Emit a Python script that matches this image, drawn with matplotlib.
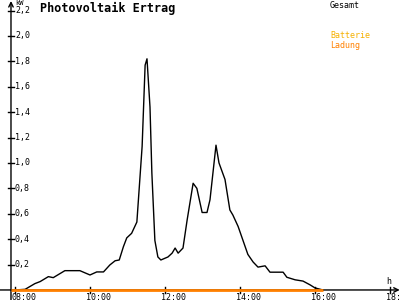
import matplotlib
matplotlib.use('Agg')
import matplotlib.pyplot as plt

# Gesamt (kW) over time of day (decimal hours)
hours = [8.0, 8.27, 8.53, 8.67, 8.89, 9.02, 9.33, 9.73, 10.0, 10.18, 10.36,
         10.53, 10.67, 10.78, 10.89, 10.98, 11.11, 11.25, 11.39, 11.47, 11.52,
         11.60, 11.65, 11.73, 11.81, 11.89, 12.08, 12.19, 12.27, 12.35, 12.48,
         12.59, 12.75, 12.85, 12.99, 13.12, 13.20, 13.36, 13.44, 13.60, 13.73,
         13.81, 13.95, 14.08, 14.21, 14.35, 14.48, 14.67, 14.80, 15.15, 15.25,
         15.47, 15.68, 15.87, 16.0, 16.21]
gesamt = [0.0, 0.005, 0.05, 0.066, 0.105, 0.097, 0.152, 0.152, 0.118, 0.142, 0.142,
          0.197, 0.23, 0.236, 0.34, 0.41, 0.446, 0.535, 1.13, 1.77, 1.82,
          1.44, 0.92, 0.39, 0.26, 0.236, 0.26, 0.29, 0.33, 0.29, 0.33,
          0.55, 0.84, 0.80, 0.61, 0.61, 0.71, 1.14, 1.00, 0.87, 0.63,
          0.59, 0.50, 0.39, 0.28, 0.22, 0.18, 0.19, 0.14, 0.14, 0.10,
          0.08, 0.07, 0.04, 0.016, 0.0]

# Batterie Ladung
batt_hours = [7.9, 16.21]
batt_kw = [0.0, 0.0]

xticks = [8, 10, 12, 14, 16, 18]
xlabels = ['08:00', '10:00', '12:00', '14:00', '16:00', '18:00']
yticks = [0.2, 0.4, 0.6, 0.8, 1.0, 1.2, 1.4, 1.6, 1.8, 2.0, 2.2]
ylabels = ['0,2', '0,4', '0,6', '0,8', '1,0', '1,2', '1,4', '1,6', '1,8', '2,0', '2,2']

mono = 'DejaVu Sans Mono'
orange = '#ff8000'

fig = plt.figure(figsize=(4, 3), dpi=100)
ax = fig.add_axes([0, 0, 1, 1])
ax.set_xlim(7.6, 18.267)
ax.set_ylim(-0.079, 2.283)
ax.axis('off')

yx = 7.893  # position of the vertical axis
# axes with arrows
ax.annotate('', xy=(18.26, 0), xytext=(7.6, 0),
            arrowprops=dict(arrowstyle='->', lw=1, color='black', shrinkA=0, shrinkB=0,
                            mutation_scale=8))
ax.annotate('', xy=(yx, 2.275), xytext=(yx, -0.079),
            arrowprops=dict(arrowstyle='->', lw=1, color='black', shrinkA=0, shrinkB=0,
                            mutation_scale=8))

# ticks
for v, lab in zip(yticks, ylabels):
    ax.plot([yx - 0.08, yx + 0.08], [v, v], color='black', lw=1)
    ax.text(8.0, v, lab, fontsize=6, family=mono, va='center', ha='left')
for t, lab in zip(xticks, xlabels):
    ax.plot([t, t], [-0.025, 0.025], color='black', lw=1)
    ax.text(t - 0.1, -0.02, lab, fontsize=6, family=mono, va='top', ha='left')

ax.plot(hours, gesamt, color='black', lw=1, zorder=4)
ax.plot(batt_hours, batt_kw, color=orange, lw=2, solid_capstyle='butt', zorder=5)

ax.text(8.0, 2.283, 'kW', fontsize=5, family=mono, va='top', ha='left')
ax.text(17.9, 0.03, 'h', fontsize=6, family=mono, va='bottom', ha='left')
ax.text(0.1, 0.995, 'Photovoltaik Ertrag', transform=ax.transAxes, fontsize=8.5,
        family=mono, fontweight='bold', va='top', ha='left')
ax.text(0.825, 0.995, 'Gesamt', transform=ax.transAxes, fontsize=6, family=mono,
        va='top', ha='left')
ax.text(0.825, 0.895, 'Batterie', transform=ax.transAxes, fontsize=6, family=mono,
        va='top', ha='left', color='#f5b000')
ax.text(0.825, 0.865, 'Ladung', transform=ax.transAxes, fontsize=6, family=mono,
        va='top', ha='left', color=orange)

fig.savefig('out.png', dpi=100)
